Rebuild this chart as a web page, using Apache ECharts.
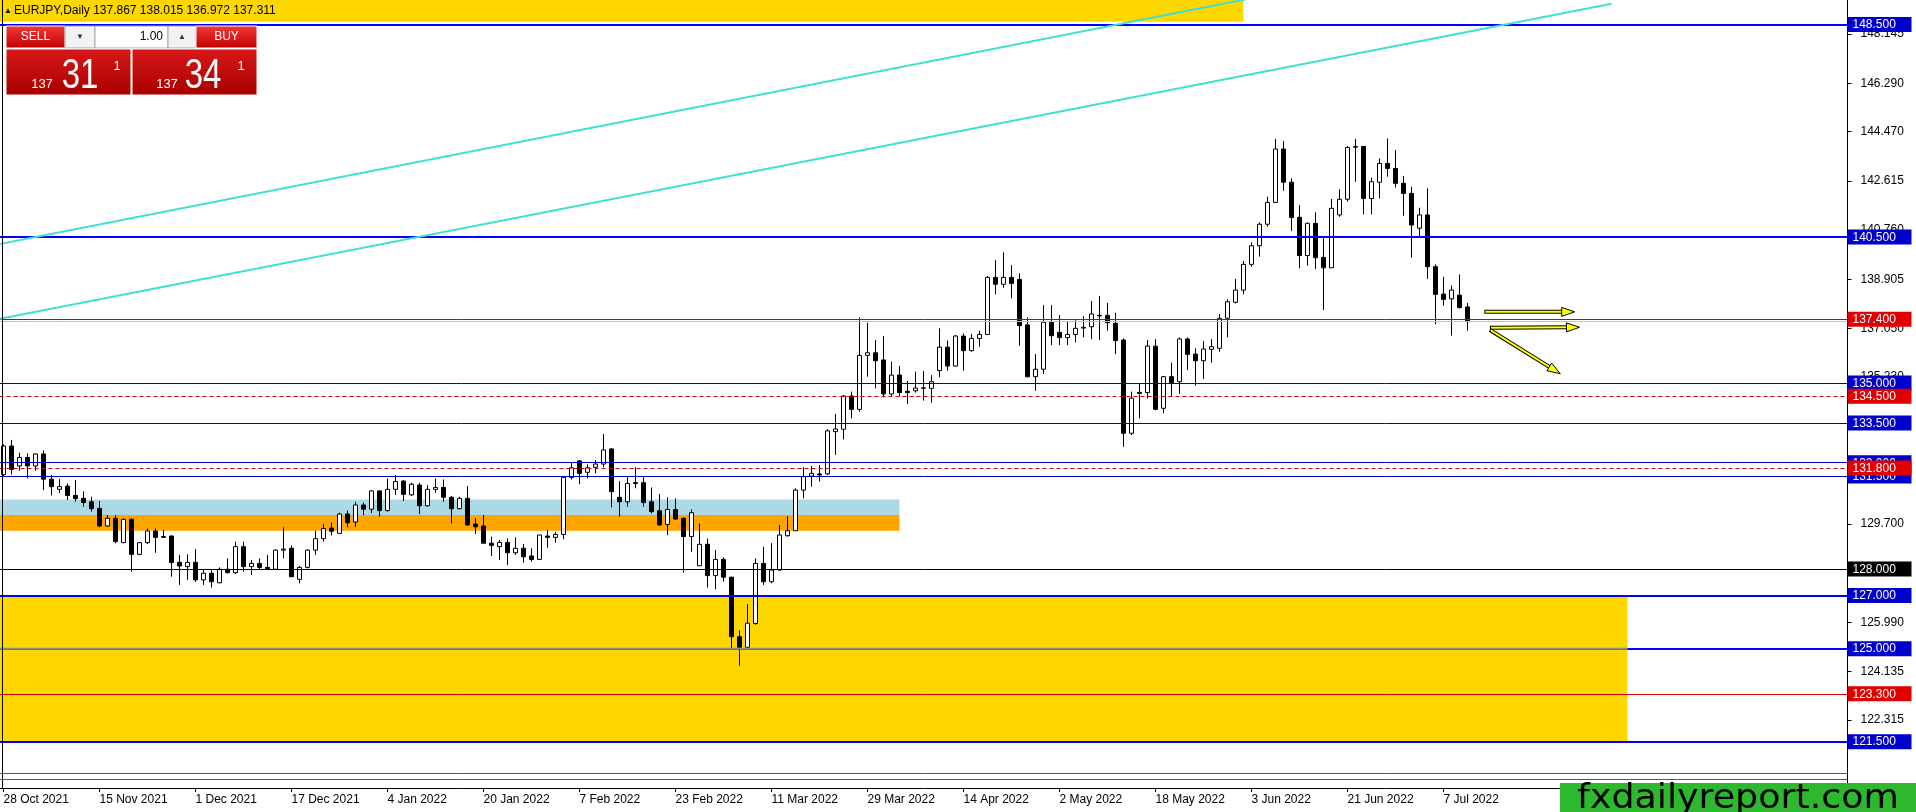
<!DOCTYPE html>
<html>
<head>
<meta charset="utf-8">
<script src="https://cdn.jsdelivr.net/npm/echarts@6/dist/echarts.min.js"></script>
<style>
html,body{margin:0;padding:0;background:#fff;overflow:hidden;}
#chart{width:1916px;height:812px;}
</style>
</head>
<body>
<div id="chart"></div>
<script>
// ---------------- data ----------------
const symbolName = 'EURJPY,Daily';
const firstDate = '2021-10-28';
const slotCount = 231;          // bar slots visible on the chart (incl. empty future space)
const labelEvery = 12;          // MT4 labels every 12 bars

const opens = [131.55,132.63,131.88,132.20,131.88,132.33,131.38,131.00,131.12,130.77,
130.66,130.53,130.28,129.62,129.91,128.99,129.87,128.55,128.99,129.43,
129.22,129.24,128.25,128.09,128.25,127.59,127.84,127.48,127.99,127.86,
128.84,128.09,128.21,128.06,127.99,128.71,128.78,127.61,128.06,128.71,
129.14,129.54,129.34,130.07,129.77,130.41,130.25,130.94,130.20,131.00,
131.31,130.79,131.16,130.38,131.00,131.07,130.70,130.27,130.66,129.69,
129.62,128.97,128.84,129.00,128.61,128.78,128.49,128.36,129.24,129.19,
129.30,131.45,132.07,131.64,131.83,131.95,132.52,130.70,130.53,131.25,
131.25,130.53,130.19,129.68,130.24,129.91,129.22,128.12,128.93,127.75,
128.36,127.69,125.45,125.05,125.95,128.21,127.52,127.96,129.25,129.44,
130.97,131.50,131.58,131.58,133.17,133.26,134.51,134.01,136.04,136.14,
135.87,134.59,135.30,134.69,134.71,134.80,134.80,135.47,136.35,135.64,
136.77,136.22,136.68,136.83,138.98,138.72,138.98,138.90,137.19,135.24,
135.52,137.29,136.91,136.71,136.83,137.07,137.12,137.55,137.55,137.25,
136.62,133.11,134.65,134.64,136.39,134.05,135.24,135.05,136.66,136.09,
135.84,136.27,136.31,137.44,138.04,138.50,139.47,140.17,140.98,141.80,
143.81,142.56,141.24,139.80,141.01,139.73,139.34,141.33,141.92,143.88,
143.91,141.95,142.56,143.27,143.08,142.52,142.14,140.83,141.33,139.38,
138.35,138.17,138.31,137.867];
const highs = [132.70,132.86,132.38,132.35,132.35,132.46,131.54,131.38,131.22,131.35,
130.92,130.72,130.56,130.03,130.03,129.90,129.92,129.00,129.52,129.52,
129.47,129.27,128.53,128.55,128.75,127.96,127.96,128.06,128.40,129.03,
129.03,128.34,128.40,128.53,128.74,129.57,128.89,128.11,128.74,129.44,
129.69,129.74,130.12,130.20,130.53,130.50,130.97,130.97,131.41,131.54,
131.35,131.25,131.25,131.16,131.41,131.37,130.75,130.72,131.12,129.91,
130.03,129.22,129.09,129.15,129.19,128.94,128.78,129.28,129.47,129.40,
131.48,132.00,132.10,131.94,132.10,133.08,132.55,131.31,131.47,131.83,
131.47,131.07,130.82,130.70,130.66,129.94,130.24,129.72,129.15,128.71,
128.44,127.71,125.70,126.68,128.40,128.84,128.97,129.66,129.99,131.04,
131.83,131.88,131.91,133.26,133.84,134.55,134.68,137.47,137.27,136.62,
136.77,135.81,135.64,135.08,135.43,135.45,135.30,137.06,136.60,136.81,
136.87,136.85,136.97,139.03,139.63,139.92,139.44,139.13,137.47,136.09,
137.94,137.94,137.56,137.31,137.37,137.52,138.09,138.28,138.02,137.65,
136.68,134.68,134.99,136.62,136.65,135.26,135.77,136.72,136.72,136.31,
136.58,136.65,137.60,138.15,138.92,139.60,140.30,141.05,142.02,144.19,
144.11,142.71,141.70,141.05,141.43,140.47,141.93,142.29,143.92,144.19,
143.92,142.73,143.46,144.21,143.77,142.80,142.39,141.60,142.33,139.47,
139.00,138.67,139.09,138.015];
const lows = [131.50,131.56,131.70,131.41,131.70,130.97,130.77,130.85,130.60,130.53,
130.35,130.16,129.57,129.59,128.97,128.97,127.90,128.52,128.94,128.61,
129.18,127.71,127.40,127.59,127.51,127.40,127.30,127.46,127.83,127.81,
127.90,127.77,127.96,127.96,127.96,128.40,127.69,127.46,128.02,128.53,
129.03,129.26,129.32,129.57,129.59,130.03,130.10,129.97,130.16,130.79,
130.56,130.75,130.07,130.35,130.87,130.53,129.72,130.24,129.62,129.32,
128.97,128.49,128.34,128.15,128.53,128.24,128.27,128.34,128.80,128.99,
129.12,131.37,131.19,131.41,131.60,131.83,130.32,129.97,130.35,131.04,
130.35,130.09,129.62,129.28,129.84,127.86,128.65,128.12,127.30,127.23,
127.52,125.01,124.35,124.95,125.90,127.40,127.46,127.94,129.22,129.44,
130.66,131.10,131.29,131.54,132.29,132.88,133.67,133.92,135.24,134.80,
134.46,134.51,134.51,134.21,134.64,134.34,134.26,135.22,135.47,135.62,
135.47,136.18,136.37,136.81,138.34,138.59,138.19,136.40,135.21,134.71,
135.34,136.43,136.43,136.43,136.53,136.72,136.65,136.62,136.97,136.09,
132.60,133.04,133.67,134.42,133.98,133.86,134.49,134.59,135.49,134.90,
135.15,135.77,136.18,136.72,138.00,138.34,139.38,139.76,140.89,141.78,
142.24,140.72,139.32,139.42,139.29,137.75,139.34,141.26,141.83,142.58,
141.35,141.35,141.95,142.77,142.36,141.30,139.72,140.51,138.92,137.21,
137.91,136.79,137.81,136.972];
const closes = [132.63,131.75,132.20,131.88,132.33,131.38,131.10,131.10,130.77,130.65,
130.50,130.27,129.62,129.91,129.03,129.87,128.55,128.99,129.43,129.19,
129.19,128.24,128.11,128.25,127.59,127.84,127.52,127.99,127.86,128.84,
128.09,128.21,128.06,128.01,128.71,128.75,127.71,128.06,128.71,129.14,
129.52,129.42,130.07,129.74,130.41,130.25,130.94,130.20,131.00,131.29,
130.81,131.19,130.38,131.00,131.07,130.70,130.27,130.66,129.66,129.59,
128.97,128.89,129.00,128.61,128.78,128.46,128.36,129.28,129.19,129.30,
131.45,131.81,131.60,131.81,131.95,132.48,130.91,130.53,131.22,131.22,
130.50,130.16,129.66,130.24,129.88,129.22,130.12,128.93,127.75,128.36,
127.69,125.45,125.05,125.96,128.21,127.52,127.96,129.28,129.44,130.97,
131.48,131.60,131.54,133.20,133.27,134.51,134.01,136.04,136.14,135.84,
134.59,135.30,134.64,134.64,134.81,134.82,135.05,136.35,135.64,136.77,
136.22,136.68,136.83,138.98,138.72,138.98,138.75,137.16,135.24,135.52,
137.29,136.78,136.71,136.83,137.06,137.10,137.60,137.53,137.27,136.60,
133.11,134.43,134.61,136.39,134.01,135.24,135.01,136.66,136.08,135.84,
136.28,136.37,137.44,138.06,138.50,139.47,140.17,140.98,141.80,143.81,
142.56,141.23,139.80,141.01,139.72,139.34,141.58,141.92,143.87,143.91,
141.95,142.58,143.27,143.08,142.52,142.14,140.95,141.33,139.38,138.34,
138.15,138.50,137.84,137.311];
const askPrice = 137.341;
const lotSize = '1.00';

// price scale tick labels (MT4 right scale)
const priceTicks = [148.145,146.290,144.470,142.615,140.760,138.905,137.050,135.230,133.375,131.520,129.700,127.845,125.990,124.135,122.315];

// horizontal levels
const bluePricesThick = [148.5,140.5,127.0,125.0,121.5];
const bluePricesThin = [135.0,133.5,132.0,131.5];
const redSolidPrices = [137.4,123.3];
const redDashedPrices = [134.5,131.8];
const blackPrices = [128.0];
const grayPrices = [120.32,120.09];
const labelledPrices = [148.5,140.5,137.4,135.0,134.5,133.5,132.0,131.5,131.8,128.0,127.0,125.0,123.3,121.5];

// rectangles: price bands from chart left edge to an end bar
const zoneLow = [130.03,129.44,121.5,148.6];
const zoneHigh = [130.62,130.03,127.0,152.0];
const zoneEndBar = [112,112,203,155];

// rising channel (two anchor points per line; extended to the left edge, ending at point B)
const trendBarA = [0,0];
const trendPriceA = [140.26,137.45];
const trendBarB = [156,201];
const trendPriceB = [149.49,149.28];

// projection arrows
const arrowFromBar = [185.1,185.8,185.8];
const arrowFromPrice = [137.68,137.08,137.00];
const arrowToBar = [196.4,197.0,194.6];
const arrowToPrice = [137.68,137.10,135.35];

// --------------- build ---------------
const MONTHS = ['Jan','Feb','Mar','Apr','May','Jun','Jul','Aug','Sep','Oct','Nov','Dec'];
const categories = [];
{
  let d = new Date(firstDate + 'T00:00:00Z');
  while (categories.length < slotCount) {
    const wd = d.getUTCDay();
    if (wd !== 0 && wd !== 6) categories.push(d.getUTCDate() + ' ' + MONTHS[d.getUTCMonth()] + ' ' + d.getUTCFullYear());
    d = new Date(d.getTime() + 86400000);
  }
}
const lastIdx = closes.length - 1;
const candleData = opens.map((o, i) => [o, closes[i], lows[i], highs[i]]);
const bid = closes[lastIdx];

const Y_MIN = 119.754, Y_MAX = 149.422;
const FONT = 'Liberation Sans, Arial, sans-serif';

const zoneColors = ['#ADD8E6','#FFA500','#FFD700','#FFD700'];
const BLUE = '#0000FF', BLUE_THIN = '#0000CD', RED = '#D40000';

function hLine(p, color, width, type) {
  return { yAxis: p, lineStyle: { color: color, width: width, type: type } };
}
function near(list, v) { return list.some(p => Math.abs(p - v) < 1e-6); }

function pixelHelpers(api) {
  const band = api.size([1, 0])[0];
  const ox = api.coord([0, 130])[0];
  return {
    X: b => ox + b * band,
    Y: p => api.coord([0, p])[1]
  };
}

const option = {
  animation: false,
  backgroundColor: '#ffffff',
  grid: { left: -0.5, right: 68.5, top: 0, bottom: 24, containLabel: false, outerBoundsMode: 'none' },
  xAxis: {
    type: 'category',
    data: categories,
    boundaryGap: true,
    axisLine: { show: true, lineStyle: { color: '#000', width: 1 } },
    axisTick: { show: true, alignWithLabel: true, length: 4, lineStyle: { color: '#000' },
      interval: (i) => i % labelEvery === 0 && i <= lastIdx },
    axisLabel: { show: true, interval: (i) => i % labelEvery === 0 && i <= lastIdx,
      align: 'left', margin: 6, color: '#000', fontSize: 12, fontFamily: FONT, hideOverlap: false },
    splitLine: { show: false }
  },
  yAxis: [
    {
      type: 'value', position: 'right', min: Y_MIN, max: Y_MAX, scale: true,
      axisLine: { show: true, lineStyle: { color: '#000', width: 1 } },
      axisTick: { show: true, length: 4, customValues: priceTicks, lineStyle: { color: '#000' } },
      axisLabel: { show: true, customValues: priceTicks, formatter: v => v.toFixed(3), margin: 13,
        color: '#000', fontSize: 12, fontFamily: FONT, hideOverlap: false },
      splitLine: { show: false }
    },
    {
      type: 'value', position: 'right', min: Y_MIN, max: Y_MAX, scale: true, z: 10,
      axisLine: { show: false }, axisTick: { show: false }, splitLine: { show: false },
      axisLabel: {
        show: true, customValues: labelledPrices, margin: 0, hideOverlap: false,
        formatter: v => {
          const t = v.toFixed(3);
          if (near(redSolidPrices, v) || near(redDashedPrices, v)) return '{r|' + t + '}';
          if (near(blackPrices, v)) return '{k|' + t + '}';
          return '{b|' + t + '}';
        },
        rich: {
          b: { backgroundColor: BLUE_THIN, color: '#fff', fontSize: 12, fontFamily: FONT, padding: [2, 4, 1, 5], width: 55, lineHeight: 12 },
          r: { backgroundColor: '#E00000', color: '#fff', fontSize: 12, fontFamily: FONT, padding: [2, 4, 1, 5], width: 55, lineHeight: 12 },
          k: { backgroundColor: '#000', color: '#fff', fontSize: 12, fontFamily: FONT, padding: [2, 4, 1, 5], width: 55, lineHeight: 12 }
        }
      }
    }
  ],
  series: [
    {
      name: 'zones', type: 'custom', z: 1, clip: true, silent: true,
      data: zoneLow.map((lo, i) => [0, lo, zoneEndBar[i], zoneHigh[i], i]),
      renderItem: (params, api) => {
        const h = pixelHelpers(api);
        const cs = params.coordSys;
        const xr = h.X(api.value(2));
        const yLo = h.Y(api.value(1)), yHi = h.Y(api.value(3));
        return { type: 'rect', shape: { x: cs.x, y: yHi, width: xr - cs.x, height: yLo - yHi },
          style: { fill: zoneColors[api.value(4)] } };
      }
    },
    {
      name: 'EURJPY', type: 'candlestick', z: 2,
      data: candleData, barWidth: 5,
      itemStyle: { color: '#ffffff', color0: '#000000', borderColor: '#000000', borderColor0: '#000000', borderColorDoji: '#000000', borderWidth: 1 },
      emphasis: { disabled: true },
      markLine: {
        silent: true, symbol: ['none', 'none'], label: { show: false }, animation: false, z: 5,
        emphasis: { disabled: true },
        data: [
          ...grayPrices.map(p => hLine(p, '#555555', 1, 'solid')),
          hLine(bid, '#C0C0C0', 1, 'solid'),
          ...blackPrices.map(p => hLine(p, '#000000', 1, 'solid')),
          ...bluePricesThin.map(p => hLine(p, BLUE_THIN, 1, 'solid')),
          ...bluePricesThick.map(p => hLine(p, BLUE, 2, 'solid')),
          ...redSolidPrices.map(p => hLine(p, RED, 1, 'solid')),
          ...redDashedPrices.map(p => hLine(p, RED, 1, [4, 3]))
        ]
      }
    },
    {
      name: 'overlap', type: 'custom', z: 6, clip: true, silent: true,
      data: [[0, bluePricesThick[3], zoneEndBar[2]]],
      renderItem: (params, api) => {
        const h = pixelHelpers(api);
        const cs = params.coordSys;
        const y = h.Y(api.value(1));
        return { type: 'line', shape: { x1: cs.x, y1: y, x2: h.X(api.value(2)), y2: y },
          style: { stroke: '#8E8E8E', lineWidth: 2 } };
      }
    },
    {
      name: 'channel', type: 'custom', z: 7, clip: true, silent: true,
      data: trendBarA.map((b, i) => [0, trendPriceA[i], b, trendBarB[i], trendPriceB[i]]),
      renderItem: (params, api) => {
        const h = pixelHelpers(api);
        const cs = params.coordSys;
        const x0 = h.X(api.value(2)), y0 = h.Y(api.value(1));
        const x1 = h.X(api.value(3)), y1 = h.Y(api.value(4));
        const m = (y1 - y0) / (x1 - x0);
        const xl = cs.x;
        return { type: 'line', shape: { x1: xl, y1: y0 + m * (xl - x0), x2: x1, y2: y1 },
          style: { stroke: '#40E0D0', lineWidth: 2 } };
      }
    },
    {
      name: 'arrows', type: 'custom', z: 8, clip: false, silent: true,
      data: arrowFromBar.map((b, i) => [0, arrowFromPrice[i], b, arrowToBar[i], arrowToPrice[i]]),
      renderItem: (params, api) => {
        const h = pixelHelpers(api);
        const x0 = h.X(api.value(2)), y0 = h.Y(api.value(1));
        const x1 = h.X(api.value(3)), y1 = h.Y(api.value(4));
        const dx = x1 - x0, dy = y1 - y0, L = Math.hypot(dx, dy);
        const ux = dx / L, uy = dy / L, nx = -uy, ny = ux;
        const head = 13, hw = 4.5;
        const bx = x1 - ux * head, by = y1 - uy * head;
        return { type: 'group', children: [
          { type: 'line', shape: { x1: x0, y1: y0, x2: bx + ux, y2: by + uy }, style: { stroke: '#000', lineWidth: 4 } },
          { type: 'line', shape: { x1: x0 + ux, y1: y0 + uy, x2: bx + ux * 2, y2: by + uy * 2 }, style: { stroke: '#FFFF00', lineWidth: 2 } },
          { type: 'polygon', shape: { points: [[x1, y1], [bx + nx * hw, by + ny * hw], [bx - nx * hw, by - ny * hw]] },
            style: { fill: '#FFFF00', stroke: '#000', lineWidth: 1 } }
        ] };
      }
    }
  ]
};

// ------------- MT4 overlays (title, one-click panel, watermark) -------------
const redGrad = { type: 'linear', x: 0, y: 0, x2: 0, y2: 1, colorStops: [{ offset: 0, color: '#F23A3A' }, { offset: 1, color: '#C20000' }] };
const redGradDark = { type: 'linear', x: 0, y: 0, x2: 0, y2: 1, colorStops: [{ offset: 0, color: '#D81818' }, { offset: 1, color: '#A80000' }] };
const f3 = v => v.toFixed(3);
function splitPrice(p) {
  const s = p.toFixed(3);            // e.g. 137.311
  return { big: s.slice(0, 3), mid: s.slice(4, 6), pip: s.slice(6) };
}
const bidParts = splitPrice(bid);
const askParts = splitPrice(askPrice);
const txt = (x, y, text, size, opts) => Object.assign({ type: 'text', x: x, y: y, z: 100,
  style: { text: text, fill: '#fff', font: size + 'px ' + FONT, align: 'center', verticalAlign: 'middle' } }, opts || {});

option.graphic = [
  { type: 'line', z: 100, shape: { x1: 2.5, y1: 0, x2: 2.5, y2: 788 }, style: { stroke: '#000', lineWidth: 1 } },
  { type: 'text', x: 4, y: 11, z: 100, style: { text: '\u25B2', fill: '#000', font: '8px ' + FONT, verticalAlign: 'middle' } },
  { type: 'text', x: 14, y: 11, z: 100, style: { text: symbolName + ' ' + f3(opens[lastIdx]) + ' ' + f3(highs[lastIdx]) + ' ' + f3(lows[lastIdx]) + ' ' + f3(closes[lastIdx]),
      fill: '#000', font: '12px ' + FONT, verticalAlign: 'middle' } },
  // top row
  { type: 'rect', z: 100, shape: { x: 6, y: 26, width: 59, height: 22 }, style: { fill: redGrad, stroke: '#fff', lineWidth: 1 } },
  txt(35.5, 37, 'SELL', 12),
  { type: 'rect', z: 100, shape: { x: 65, y: 26, width: 30, height: 22 }, style: { fill: '#F2F2F2', stroke: '#A8A8A8', lineWidth: 1 } },
  txt(80, 37, '\u25BC', 8, { style: { text: '\u25BC', fill: '#333', font: '8px ' + FONT, align: 'center', verticalAlign: 'middle' } }),
  { type: 'rect', z: 100, shape: { x: 95, y: 26, width: 73, height: 22 }, style: { fill: '#fff', stroke: '#A8A8A8', lineWidth: 1 } },
  { type: 'text', x: 163, y: 37, z: 101, style: { text: lotSize, fill: '#000', font: '12px ' + FONT, align: 'right', verticalAlign: 'middle' } },
  { type: 'rect', z: 100, shape: { x: 168, y: 26, width: 28, height: 22 }, style: { fill: '#F2F2F2', stroke: '#A8A8A8', lineWidth: 1 } },
  txt(182, 37, '\u25B2', 8, { style: { text: '\u25B2', fill: '#333', font: '8px ' + FONT, align: 'center', verticalAlign: 'middle' } }),
  { type: 'rect', z: 100, shape: { x: 196, y: 26, width: 61, height: 22 }, style: { fill: redGrad, stroke: '#fff', lineWidth: 1 } },
  txt(226.5, 37, 'BUY', 12),
  // price boxes
  { type: 'rect', z: 100, shape: { x: 6, y: 49, width: 125, height: 46 }, style: { fill: redGradDark, stroke: '#fff', lineWidth: 1 } },
  { type: 'rect', z: 100, shape: { x: 132, y: 49, width: 125, height: 46 }, style: { fill: redGradDark, stroke: '#fff', lineWidth: 1 } },
  txt(42, 84, bidParts.big, 13),
  { type: 'text', x: 80, y: 76, z: 101, scaleY: 1.3, style: { text: bidParts.mid, fill: '#fff', font: '33px ' + FONT, align: 'center', verticalAlign: 'middle' } },
  txt(117, 66, bidParts.pip, 13),
  txt(167, 84, askParts.big, 13),
  { type: 'text', x: 203, y: 76, z: 101, scaleY: 1.3, style: { text: askParts.mid, fill: '#fff', font: '33px ' + FONT, align: 'center', verticalAlign: 'middle' } },
  txt(241, 66, askParts.pip, 13),
  // watermark
  { type: 'rect', z: 100, shape: { x: 1560, y: 783, width: 356, height: 29 }, style: { fill: '#2EB82E' } },
  { type: 'text', x: 1738, y: 799, z: 101, scaleX: 1.07, style: { text: 'fxdailyreport.com', fill: '#000', font: '34px DejaVu Sans, sans-serif', align: 'center', verticalAlign: 'middle' } }
];

const chart = echarts.init(document.getElementById('chart'), null, { renderer: 'canvas' });
chart.setOption(option);
</script>
</body>
</html>
